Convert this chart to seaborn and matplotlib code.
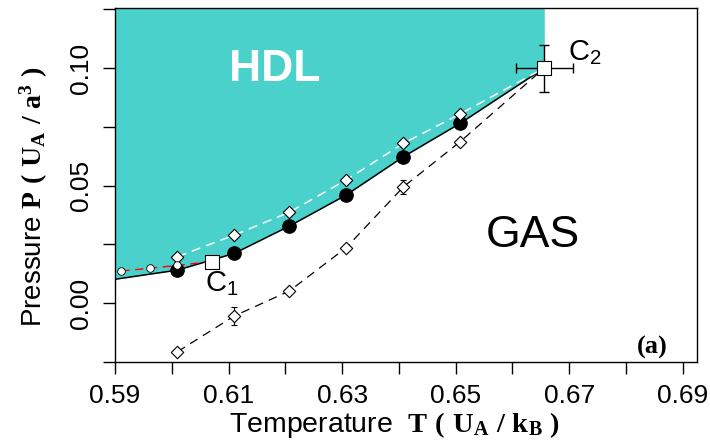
import numpy as np
import pandas as pd
import matplotlib
matplotlib.use("Agg")
import matplotlib.pyplot as plt
import seaborn as sns

# ---- data ----
T_liq = [0.601, 0.611, 0.6207, 0.6307, 0.6408, 0.6508]
P_liq = [0.0141, 0.0212, 0.0328, 0.0460, 0.0623, 0.0765]
T_upper = [0.601, 0.611, 0.6207, 0.6307, 0.6408, 0.6508]
P_upper = [0.0198, 0.0290, 0.0387, 0.0524, 0.0680, 0.0805]
T_lower = [0.601, 0.611, 0.6207, 0.6307, 0.6408, 0.6508]
P_lower = [-0.0206, -0.0054, 0.0052, 0.0236, 0.0495, 0.0687]
P_lower_err = [0.0, 0.004, 0.0, 0.0, 0.003, 0.0]
T_small = [0.5911, 0.5961, 0.601]
P_small = [0.0137, 0.0149, 0.0161]
T_edge, P_edge = 0.59, 0.0102
T_C1, P_C1 = 0.607, 0.0177
T_C2, P_C2 = 0.6656, 0.100
T_C2_err, P_C2_err = 0.005, 0.010
x_ticks = [0.59, 0.61, 0.63, 0.65, 0.67, 0.69]
y_ticks = [0.00, 0.05, 0.10]

sns.set_style("ticks")
plt.rcParams['font.family'] = ['Liberation Sans', 'DejaVu Sans']
plt.rcParams['mathtext.fontset'] = 'custom'
plt.rcParams['mathtext.rm'] = 'Liberation Sans'
plt.rcParams['mathtext.bf'] = 'Liberation Serif:bold'
plt.rcParams['mathtext.it'] = 'Liberation Sans:italic'
plt.rcParams['text.color'] = 'black'
plt.rcParams['axes.labelcolor'] = 'black'
plt.rcParams['xtick.color'] = 'black'
plt.rcParams['ytick.color'] = 'black'

fig, ax = plt.subplots(figsize=(7.1, 4.47), dpi=100)
fig.subplots_adjust(left=0.162, right=0.9817, top=0.982, bottom=0.19)

xmin, xmax = 0.59, 0.6925
ymin, ymax = -0.025, 0.1255

cyan = "#4ad1cc"
# boundary of HDL region
bx = [T_edge] + T_liq + [T_C2]
by = [P_edge] + P_liq + [P_C2]
ax.fill_between(bx, by, ymax + 0.01, color=cyan, lw=0, zorder=0)

# solid boundary line
sns.lineplot(x=bx, y=by, ax=ax, color="black", lw=1.1, estimator=None, sort=False, zorder=2)
# upper white dashed line
sns.lineplot(x=T_upper + [T_C2], y=P_upper + [P_C2], ax=ax, color="white", lw=1.1,
             estimator=None, sort=False, zorder=2, linestyle=(0, (6, 4)))
# lower black dashed line
sns.lineplot(x=T_lower + [T_C2], y=P_lower + [P_C2], ax=ax, color="black", lw=0.9,
             estimator=None, sort=False, zorder=2, linestyle=(0, (7, 5)))
# red dashed line
sns.lineplot(x=T_small + [T_C1], y=P_small + [P_C1], ax=ax, color="red", lw=1.0,
             estimator=None, sort=False, zorder=2, linestyle=(0, (6, 4)))

# error bars
ax.errorbar(T_lower, P_lower, yerr=P_lower_err, fmt="none", ecolor="black", elinewidth=0.8,
            capsize=2, capthick=0.8, zorder=3)
ax.errorbar([T_C2], [P_C2], xerr=[T_C2_err], yerr=[P_C2_err], fmt="none", ecolor="black",
            elinewidth=1.0, capsize=3.3, capthick=1.0, zorder=3)

# markers
sns.scatterplot(x=T_liq, y=P_liq, ax=ax, marker="o", s=95, color="black", edgecolor="black", zorder=4)
sns.scatterplot(x=T_upper, y=P_upper, ax=ax, marker="D", s=40, color="white", edgecolor="black",
                linewidth=0.8, zorder=5)
sns.scatterplot(x=T_lower, y=P_lower, ax=ax, marker="D", s=40, color="white", edgecolor="black",
                linewidth=0.8, zorder=5)
sns.scatterplot(x=T_small, y=P_small, ax=ax, marker="o", s=30, color="white", edgecolor="black",
                linewidth=0.6, zorder=5)
sns.scatterplot(x=[T_C1, T_C2], y=[P_C1, P_C2], ax=ax, marker="s", s=100, color="white",
                edgecolor="black", linewidth=0.8, zorder=6)

# texts
ax.text(0.6182, 0.0993, "HDL", color="white", fontsize=32, fontweight="bold",
        ha="center", va="center", zorder=7)
ax.text(0.6636, 0.029, "GAS", color="black", fontsize=32, ha="center", va="center", zorder=7)
ax.text(0.6088, 0.0085, r"$\mathrm{C}_{1}$", fontsize=21, ha="center", va="center", zorder=7)
ax.text(0.6727, 0.1065, r"$\mathrm{C}_{2}$", fontsize=21, ha="center", va="center", zorder=7)
ax.text(0.923, 0.042, "(a)", transform=ax.transAxes, fontsize=19, fontweight="bold",
        family="Liberation Serif", ha="center", va="center", zorder=7)

ax.set_xlim(xmin, xmax)
ax.set_ylim(ymin, ymax)
ax.set_xticks(x_ticks)
ax.set_xticklabels([f"{v:.2f}" for v in x_ticks])
ax.set_xticks([0.60, 0.62, 0.64, 0.66, 0.68], minor=True)
ax.set_yticks(y_ticks)
ax.set_yticklabels([f"{v:.2f}" for v in y_ticks], rotation=90, va="center")
ax.set_yticks([-0.025, 0.025, 0.075, 0.125], minor=True)
ax.tick_params(axis="both", which="both", direction="out", length=8.5, width=1.0, color="black")
ax.tick_params(axis="x", which="major", labelsize=19, pad=7, labelcolor="black")
ax.tick_params(axis="y", which="major", labelsize=19, pad=7, labelcolor="black")

for s in ax.spines.values():
    s.set_visible(True)
    s.set_color("black")
    s.set_linewidth(1.0)

ax.set_xlabel(r"Temperature  $\mathbf{T\ (\ U_A\ /\ k_B\ )}$", fontsize=20.5)
ax.xaxis.set_label_coords(0.48, -0.135)
ax.set_ylabel(r"Pressure $\mathbf{P\ (\ U_A\ /\ a^3\ )}$", fontsize=20)
ax.yaxis.set_label_coords(-0.112, 0.466)

fig.savefig("out.png", dpi=100)
